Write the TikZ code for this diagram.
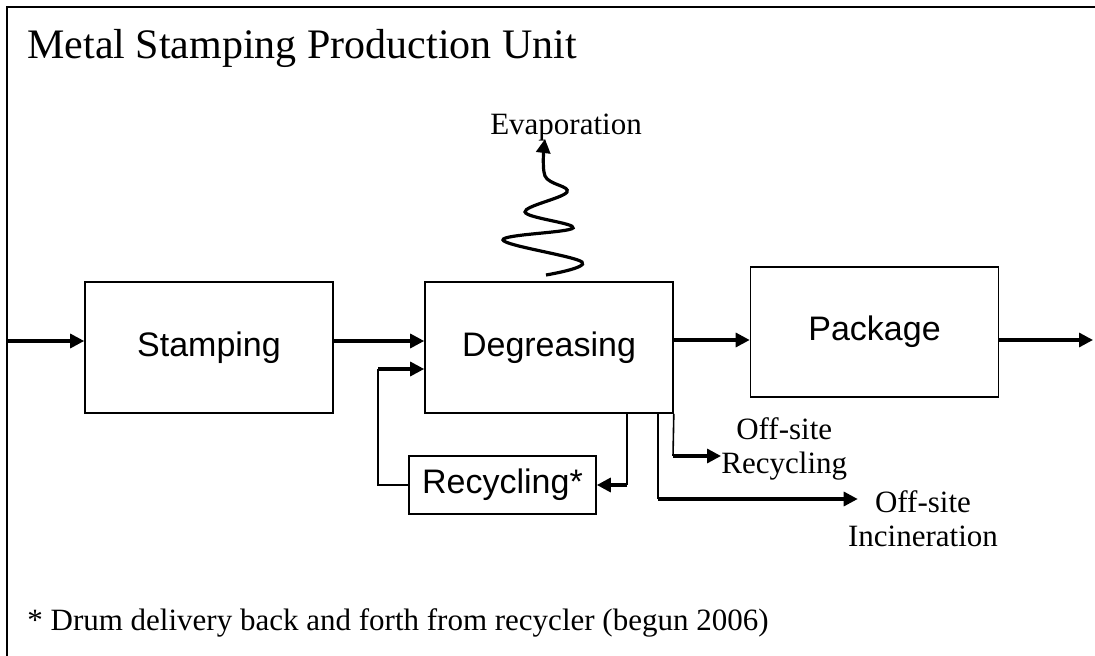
\documentclass[tikz,border=0pt]{standalone}
\usepackage{fontspec}
\setmainfont{Liberation Serif}
\setsansfont{Liberation Sans}
\usetikzlibrary{arrows.meta,positioning,calc}

\begin{document}
\begin{tikzpicture}[
    x=0.5pt,y=-0.5pt,
    proc/.style={draw=black,line width=0.8pt,minimum width=124pt,minimum height=65.5pt,inner sep=0pt,font=\sffamily\fontsize{17}{20}\selectfont},
    small/.style={draw=black,line width=0.8pt,minimum width=93.5pt,minimum height=29pt,inner sep=0pt,font=\sffamily\fontsize{17}{20}\selectfont},
    lbl/.style={align=center,inner sep=0pt,font=\fontsize{15.5}{17}\selectfont},
    arr/.style={-{Triangle[length=7pt,width=7pt]},line width=1.6pt},
    pipe/.style={line width=0.8pt}
  ]
  \useasboundingbox (0,0) rectangle (1095,656);
  \draw[pipe] (7,656) -- (7,7) -- (1095,7);
  \node[anchor=base west,inner sep=0pt,font=\fontsize{21}{25}\selectfont] (title) at (27,59) {Metal Stamping Production Unit};

  % main line
  \node[proc] (stamp) at (209,347.5) {Stamping};
  \node[proc] (deg) at (549,347.5) {Degreasing};
  \node[proc,minimum height=65pt] (pack) at (874.5,332) {Package};
  \node[small] (recyc) at (502.5,485) {Recycling*};
  \coordinate (in) at (7,341);
  \coordinate (out) at (1093,340);
  \draw[arr] (in) -- (in -| stamp.west);
  \draw[arr] (stamp.east |- in) -- (deg.west |- in);
  \draw[arr] (deg.east |- out) -- (pack.west |- out);
  \draw[arr] (pack.east |- out) -- (out);

  % recycling loop
  \coordinate (fb) at (378,369);
  \coordinate (drop) at (627,485);
  \draw[pipe] (recyc.west) -| (fb);
  \draw[arr] (fb) -- (deg.west |- fb);
  \draw[pipe] (deg.south -| drop) -- (drop);
  \draw[arr] (drop) -- (recyc.east);

  % off-site streams
  \node[lbl,anchor=west] (offrec) at (721,449) {Off-site\\Recycling};
  \node[lbl] (offinc) at (923,519) {Off-site\\Incineration};
  \coordinate (osr) at (673,456);
  \coordinate (osi) at (658,499);
  \draw[pipe] (deg.south east) -- (osr);
  \draw[arr] (osr) -- (offrec.west |- osr);
  \draw[pipe] (deg.south -| osi) -- (osi);
  \draw[arr] (osi) -- ([xshift=5pt]offinc.west |- osi);

  % evaporation
  \node[lbl,anchor=base] (evap) at (566,135) {Evaporation};
  \draw[arr] plot[smooth,tension=0.6] coordinates {(546,275) (582,262) (503,240) (573,228) (525,212) (567,192) (545,176) (545,139)};

  \node[lbl,anchor=base west] (note) at (27,630) {* Drum delivery back and forth from recycler (begun 2006)};
\end{tikzpicture}
\end{document}
